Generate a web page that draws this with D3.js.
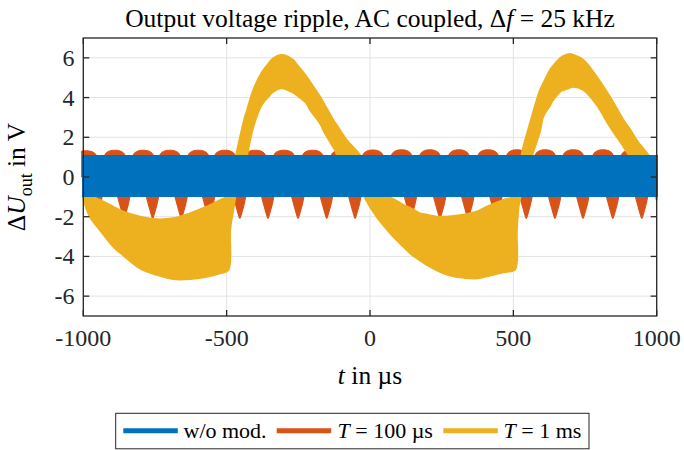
<!DOCTYPE html>
<html><head><meta charset="utf-8">
<script src="https://cdn.jsdelivr.net/npm/d3@7"></script>
<style>
body{margin:0;background:#fff}
text{font-family:'Liberation Serif','Tinos','Times New Roman','DejaVu Serif',serif}
</style>
</head><body>
<svg id="c" width="684" height="450"></svg>
<script>
// ---------- data ----------
const xTicks = [-1000, -500, 0, 500, 1000];
const yTicks = [-6, -4, -2, 0, 2, 4, 6];
const seriesNames = ["w/o mod.", "T = 100 µs", "T = 1 ms"];

// w/o modulation: envelope of dense ripple (µs, V)
const blueT  = [-1000, 1000];
const blueLo = [-0.95, -0.95];
const blueHi = [1.05, 1.05];

// T = 100 µs: upper bumps and lower spikes of the ripple envelope
const orangeBumpT  = [-990, -890, -791, -698, -599, -506, -400, -300, -200, -100, 10, 110, 209, 310, 412, 512, 611, 709, 813, 912];
const orangeBumpV  = [1.32, 1.35, 1.35, 1.35, 1.35, 1.35, 1.35, 1.35, 1.35, 1.35, 1.36, 1.37, 1.37, 1.37, 1.37, 1.37, 1.37, 1.37, 1.37, 1.37];
const orangeSpikeT = [-955, -858, -758, -658, -562, -454, -356, -251, -151, -52, 45, 142, 244, 342, 440, 545, 645, 743, 847, 948];
const orangeSpikeV = [-2.05, -2.08, -2.08, -2.08, -2.05, -2.08, -2.08, -2.08, -2.08, -2.08, -2.05, -2.05, -2.08, -2.08, -2.05, -2.08, -2.08, -2.08, -2.08, -2.08];

// T = 1 ms: lower and upper envelope
const yellowT  = [-1000, -977, -942, -895, -860, -802, -744, -686, -628, -570, -523, -494, -488, -477, -470, -467, -436, -430, -407, -378, -349, -337, -308, -268, -256, -221, -209, -174, -163, -128, -122, -110, -81, -35, -17, 23, 81, 116, 140, 174, 198, 233, 256, 291, 314, 349, 372, 407, 430, 465, 477, 506, 512, 518, 525, 529, 558, 564, 593, 604, 628, 639, 663, 674, 698, 709, 744, 791, 837, 884, 907, 930, 971, 1000];
const yellowLo = [-1.1, -2.0, -2.67, -3.51, -3.95, -4.6, -4.93, -5.14, -5.14, -5.02, -4.85, -4.68, -2.67, -1.66, -1.0, -0.5, 0.5, 1.0, 2.53, 3.63, 4.13, 4.3, 4.47, 4.25, 4.13, 3.7, 3.37, 2.7, 2.37, 1.5, 1.36, 0.9, 0.3, -0.5, -1.07, -2.0, -3.0, -3.5, -3.84, -4.2, -4.43, -4.7, -4.85, -5.0, -5.05, -5.1, -5.1, -5.0, -4.93, -4.8, -4.77, -4.65, -2.7, -1.5, -1.0, -0.5, 0.5, 1.0, 2.3, 3.04, 3.6, 3.88, 4.3, 4.38, 4.5, 4.55, 4.38, 3.63, 2.53, 1.53, 1.0, 0.5, -0.3, -1.15];
const yellowHi = [-0.85, -0.95, -1.15, -1.5, -1.75, -2.0, -2.13, -2.08, -1.83, -1.5, -1.16, -0.95, -0.6, 0.3, 0.9, 1.1, 3.04, 3.3, 4.38, 5.25, 5.8, 5.98, 6.14, 5.89, 5.68, 5.05, 4.79, 4.04, 3.76, 2.87, 2.74, 2.48, 1.86, 1.1, 0.5, -0.8, -1.1, -1.4, -1.55, -1.83, -1.9, -2.0, -2.0, -1.96, -1.93, -1.83, -1.75, -1.5, -1.35, -1.16, -1.1, -1.0, -0.9, -0.5, 0.0, 1.1, 2.7, 3.0, 4.38, 4.7, 5.39, 5.6, 5.98, 6.08, 6.19, 6.15, 5.89, 5.05, 4.04, 2.87, 2.4, 1.86, 1.1, 0.5];

// ---------- styles ----------
const FONT = "'Liberation Serif','Tinos','Times New Roman','DejaVu Serif',serif";
const C = {blue: "#0072BD", orange: "#D95319", yellow: "#EDB120", axis: "#262626", grid: "#e3e3e3"};
const bumpOff = [-40, -30, -16, 0, 16, 30, 40], bumpFrac = [0, 0.6, 0.92, 1, 0.92, 0.6, 0];
const spikeOff = [-24, -14, -6, -2, 0, 2, 6, 14, 22], spikeFrac = [0, 0.45, 0.8, 0.96, 1, 0.96, 0.8, 0.45, 0];
const bumpBase = 1.02, spikeBase = -0.9;

// ---------- layout ----------
const svg = d3.select("#c");
const L = 83.3, R = 656.7, T = 38, B = 316;
const x = d3.scaleLinear().domain([-1000, 1000]).range([L, R]);
const y = d3.scaleLinear().domain([-7, 7]).range([B, T]);

// grid
const g = svg.append("g");
g.selectAll(".gx").data(xTicks).join("line")
  .attr("x1", d => x(d)).attr("x2", d => x(d)).attr("y1", T).attr("y2", B)
  .attr("stroke", C.grid).attr("stroke-width", 1);
g.selectAll(".gy").data(yTicks).join("line")
  .attr("y1", d => y(d)).attr("y2", d => y(d)).attr("x1", L).attr("x2", R)
  .attr("stroke", C.grid).attr("stroke-width", 1);

// series
const plot = svg.append("g");

const clampX = t => Math.max(-1006, Math.min(1006, t));
const bumpPts = [];
orangeBumpT.forEach((t, i) => bumpOff.forEach((o, j) => bumpPts.push([t + o, bumpBase + bumpFrac[j] * (orangeBumpV[i] - bumpBase)])));
const spikePts = [];
orangeSpikeT.forEach((t, i) => spikeOff.forEach((o, j) => spikePts.push([t + o, spikeBase + spikeFrac[j] * (orangeSpikeV[i] - spikeBase)])));
bumpPts.sort((a, b) => a[0] - b[0]);
spikePts.sort((a, b) => a[0] - b[0]);
const areaUp = d3.area().x(d => x(clampX(d[0]))).y0(y(0)).y1(d => y(d[1])).curve(d3.curveCatmullRom);
const areaDn = d3.area().x(d => x(clampX(d[0]))).y0(y(0)).y1(d => y(d[1])).curve(d3.curveLinear);
plot.append("path").attr("d", areaUp(bumpPts)).attr("fill", C.orange).attr("stroke", C.orange).attr("stroke-width", 1);
plot.append("path").attr("d", areaDn(spikePts)).attr("fill", C.orange).attr("stroke", C.orange).attr("stroke-width", 1.2).attr("stroke-linejoin", "round");

// yellow
const yData = yellowT.map((t, i) => ({t, lo: yellowLo[i], hi: yellowHi[i]}));
const yArea = d3.area().x(d => x(d.t)).y0(d => y(d.lo)).y1(d => y(d.hi)).curve(d3.curveCatmullRom.alpha(0.5));
plot.append("path").attr("d", yArea(yData)).attr("fill", C.yellow).attr("stroke", C.yellow).attr("stroke-width", 2).attr("stroke-linejoin", "round");

// blue
const bData = blueT.map((t, i) => ({t, lo: blueLo[i], hi: blueHi[i]}));
const bArea = d3.area().x(d => x(d.t)).y0(d => y(d.lo)).y1(d => y(d.hi));
plot.append("path").attr("d", bArea(bData)).attr("fill", C.blue).attr("stroke", C.blue).attr("stroke-width", 2.5);

// axes box + ticks
const ax = svg.append("g").attr("stroke", C.axis).attr("stroke-width", 1.3).attr("fill", "none");
ax.append("rect").attr("x", L).attr("y", T).attr("width", R - L).attr("height", B - T);
const tl = 6;
xTicks.forEach(d => {
  ax.append("line").attr("x1", x(d)).attr("x2", x(d)).attr("y1", B).attr("y2", B - tl);
  ax.append("line").attr("x1", x(d)).attr("x2", x(d)).attr("y1", T).attr("y2", T + tl);
});
yTicks.forEach(d => {
  ax.append("line").attr("y1", y(d)).attr("y2", y(d)).attr("x1", L).attr("x2", L + tl);
  ax.append("line").attr("y1", y(d)).attr("y2", y(d)).attr("x1", R).attr("x2", R - tl);
});

// tick labels
const fs = 24;
svg.selectAll(".xl").data(xTicks).join("text")
  .attr("font-family", FONT)
  .attr("x", d => x(d)).attr("y", 346).attr("text-anchor", "middle")
  .attr("font-size", fs).attr("fill", "#262626").text(d => String(d));
svg.selectAll(".yl").data(yTicks).join("text")
  .attr("font-family", FONT)
  .attr("x", 74.5).attr("y", d => y(d) + 8).attr("text-anchor", "end")
  .attr("font-size", fs).attr("fill", "#262626").text(d => String(d));

// title
const title = svg.append("text").attr("font-family", FONT).attr("x", 370).attr("y", 27).attr("text-anchor", "middle").attr("font-size", 25.5).attr("fill", "#000");
title.append("tspan").text("Output voltage ripple, AC coupled, Δ");
title.append("tspan").attr("font-style", "italic").text("f");
title.append("tspan").text(" = 25 kHz");

// x label
const xl = svg.append("text").attr("font-family", FONT).attr("x", 370).attr("y", 384).attr("text-anchor", "middle").attr("font-size", 25.5).attr("fill", "#000");
xl.append("tspan").attr("font-style", "italic").text("t");
xl.append("tspan").text(" in µs");

// y label
const yl = svg.append("text").attr("font-family", FONT).attr("transform", "translate(25,177) rotate(-90)").attr("text-anchor", "middle").attr("font-size", 25.5).attr("fill", "#000");
yl.append("tspan").text("Δ");
yl.append("tspan").attr("font-style", "italic").text("U");
yl.append("tspan").attr("font-size", 18).attr("dy", 7).text("out");
yl.append("tspan").attr("dy", -7).text(" in V");

// legend
const lg = svg.append("g");
lg.append("rect").attr("x", 115.7).attr("y", 413.3).attr("width", 473.3).attr("height", 35.5)
  .attr("fill", "#fff").attr("stroke", C.axis).attr("stroke-width", 1);
const legItems = [
  {c: C.blue, x0: 123.3, tx: 183.5, parts: [[seriesNames[0], false]]},
  {c: C.orange, x0: 276.7, tx: 337.5, parts: [["T", true], [seriesNames[1].slice(1), false]]},
  {c: C.yellow, x0: 443.3, tx: 503.5, parts: [["T", true], [seriesNames[2].slice(1), false]]}
];
legItems.forEach(it => {
  lg.append("line").attr("x1", it.x0).attr("x2", it.x0 + 54.5).attr("y1", 430.7).attr("y2", 430.7)
    .attr("stroke", it.c).attr("stroke-width", 5);
  const t = lg.append("text").attr("font-family", FONT).attr("x", it.tx).attr("y", 438).attr("font-size", 22).attr("fill", "#000");
  it.parts.forEach(p => t.append("tspan").attr("font-style", p[1] ? "italic" : "normal").text(p[0]));
});
</script>
</body></html>
